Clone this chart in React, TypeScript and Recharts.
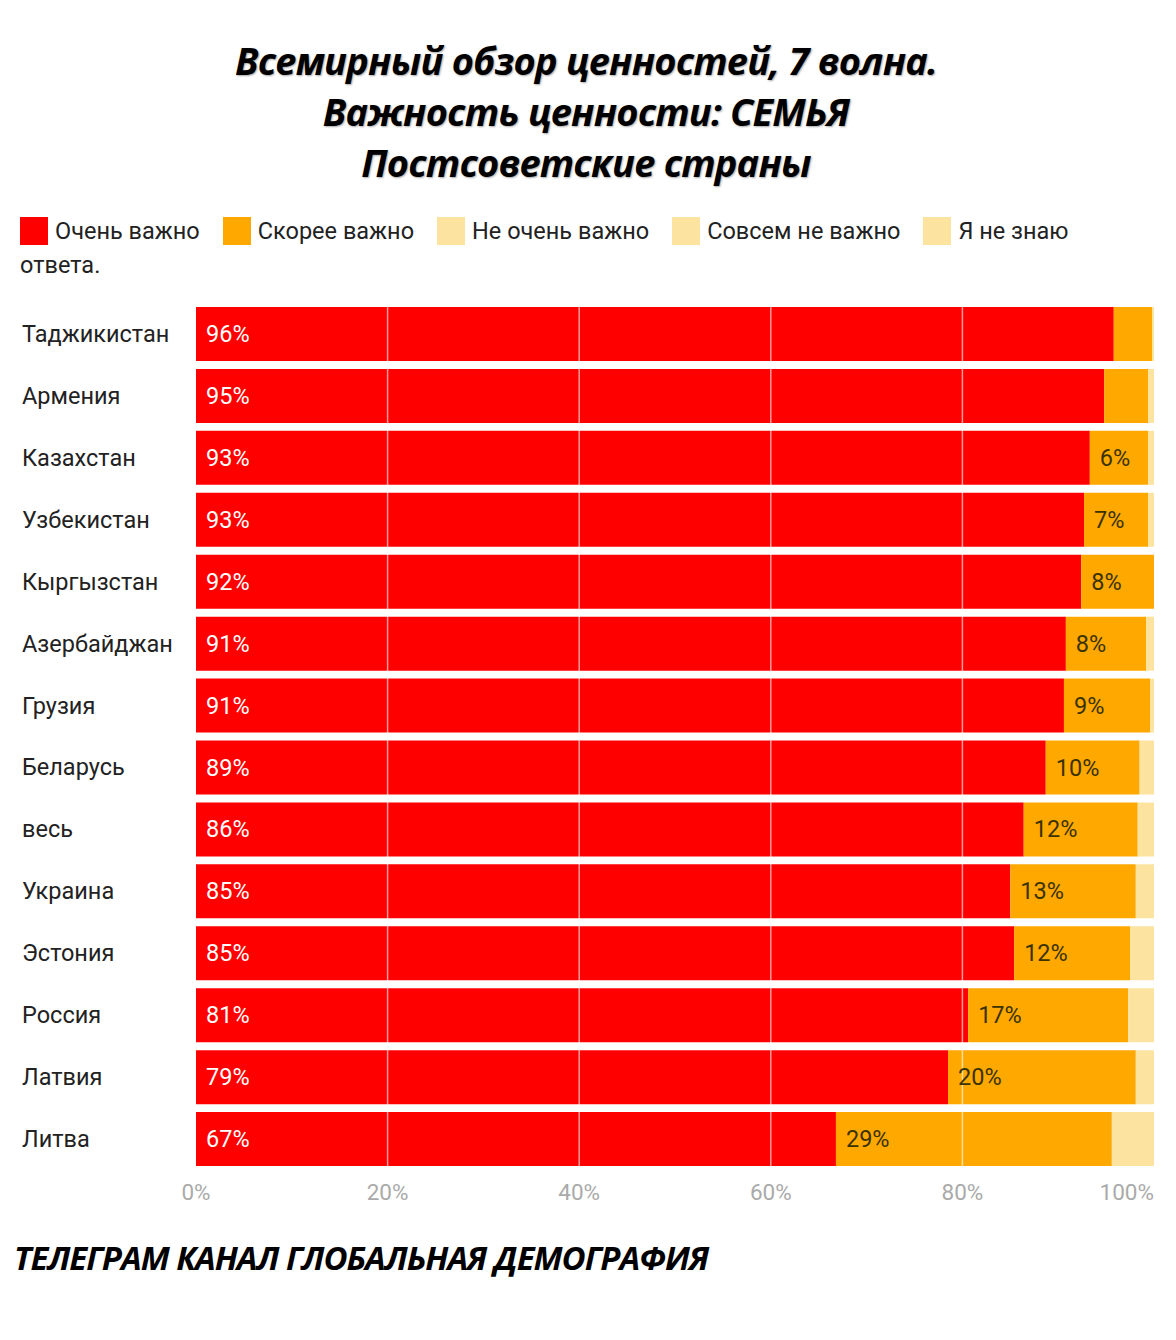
import React from "react";
import { BarChart, Bar, XAxis, YAxis, ReferenceLine, LabelList } from "recharts";

const countries = [
  "Таджикистан", "Армения", "Казахстан", "Узбекистан", "Кыргызстан", "Азербайджан", "Грузия",
  "Беларусь", "весь", "Украина", "Эстония", "Россия", "Латвия", "Литва",
];
const veryImportant = [95.8, 94.8, 93.3, 92.7, 92.4, 90.8, 90.6, 88.7, 86.4, 85.0, 85.4, 80.6, 78.5, 66.8];
const ratherImportant = [4.0, 4.6, 6.1, 6.7, 7.6, 8.4, 9.0, 9.8, 11.9, 13.1, 12.1, 16.7, 19.6, 28.8];
const notVeryImportant = [0.2, 0.6, 0.6, 0.6, 0.0, 0.8, 0.4, 1.5, 1.7, 1.9, 2.5, 2.7, 1.9, 4.4];
const notAtAll = [0, 0, 0, 0, 0, 0, 0, 0, 0, 0, 0, 0, 0, 0];
const dontKnow = [0, 0, 0, 0, 0, 0, 0, 0, 0, 0, 0, 0, 0, 0];
const xTicks = [0, 20, 40, 60, 80, 100];
const gridLines = [20, 40, 60, 80];

const seriesNames = ["Очень важно", "Скорее важно", "Не очень важно", "Совсем не важно", "Я не знаю ответа."];
const seriesColors = ["#ff0000", "#ffa800", "#fde3a0", "#fde3a0", "#fde3a0"];

const data = countries.map((c, i) => ({
  country: c,
  v1: veryImportant[i],
  v2: ratherImportant[i],
  v3: notVeryImportant[i],
  v4: notAtAll[i],
  v5: dontKnow[i],
}));

const FONT = "Roboto, 'Noto Sans', sans-serif";

const makeLabel = (color: string) => (props: any) => {
  const { x, y, height, value } = props;
  if (value == null || value < 5) return null;
  return (
    <text
      x={x + 10}
      y={y + height / 2}
      fill={color}
      fontSize={23.5}
      fontFamily={FONT}
      dominantBaseline="central"
      textAnchor="start"
    >
      {Math.round(value)}%
    </text>
  );
};

const CountryTick = (props: any) => {
  const { y, payload } = props;
  return (
    <text x={22} y={y} fill="#222" fontSize={23.5} fontFamily={FONT} dominantBaseline="central" textAnchor="start">
      {payload.value}
    </text>
  );
};

const PercentTick = (props: any) => {
  const { x, y, payload } = props;
  const last = payload.value === xTicks[xTicks.length - 1];
  return (
    <text
      x={x}
      y={y + 22}
      fill="#aaa"
      fontSize={22.5}
      fontFamily={FONT}
      dominantBaseline="central"
      textAnchor={last ? "end" : "middle"}
    >
      {payload.value}%
    </text>
  );
};

export default function App() {
  const titleStyle: React.CSSProperties = {
    fontFamily: "'Open Sans', sans-serif",
    fontWeight: 700,
    fontStyle: "italic",
    fontSize: 38,
    letterSpacing: -0.8,
    color: "#000",
    textAlign: "center",
    lineHeight: "51px",
    textShadow: "1px 1px 2px rgba(0,0,0,0.35)",
  };
  return (
    <div style={{ position: "absolute", left: 0, top: 0, width: 1176, height: 1340, background: "#fff" }}>
      <div style={{ position: "absolute", left: 0, top: 35, width: 1172, ...titleStyle }}>
        <div>Всемирный обзор ценностей, 7 волна.</div>
        <div>Важность ценности: СЕМЬЯ</div>
        <div>Постсоветские страны</div>
      </div>
      <div
        style={{
          position: "absolute",
          left: 20,
          top: 214,
          width: 1110,
          fontFamily: FONT,
          fontSize: 23.5,
          lineHeight: "34px",
          color: "#222",
        }}
      >
        {seriesNames.map((n, i) => (
          <React.Fragment key={n}>
            <span
              style={{
                display: "inline-block",
                width: 28,
                height: 28,
                background: seriesColors[i],
                verticalAlign: "-6px",
                marginRight: 7,
                marginLeft: i === 0 ? 0 : 23,
              }}
            />
            {n.split(" ").map((w, j) => (
              <React.Fragment key={j}>
                {j > 0 ? " " : null}
                <span>{w}</span>
              </React.Fragment>
            ))}
          </React.Fragment>
        ))}
      </div>
      <div style={{ position: "absolute", left: 0, top: 0 }}>
        <BarChart
          width={1176}
          height={1230}
          data={data}
          layout="vertical"
          margin={{ top: 303, right: 22, bottom: 30, left: 20 }}
          barSize={54}
        >
          <XAxis
            type="number"
            domain={[0, 100]}
            ticks={xTicks}
            interval={0}
            axisLine={false}
            tickLine={false}
            tickSize={0}
            tickMargin={0}
            tick={<PercentTick />}
            height={30}
          />
          <YAxis
            type="category"
            dataKey="country"
            width={176}
            axisLine={false}
            tickLine={false}
            tick={<CountryTick />}
            interval={0}
          />
          <Bar dataKey="v1" name={seriesNames[0]} stackId="a" fill={seriesColors[0]} isAnimationActive={false}>
            <LabelList dataKey="v1" content={makeLabel("#ffffff")} />
          </Bar>
          <Bar dataKey="v2" name={seriesNames[1]} stackId="a" fill={seriesColors[1]} isAnimationActive={false}>
            <LabelList dataKey="v2" content={makeLabel("#3a3300")} />
          </Bar>
          <Bar dataKey="v3" name={seriesNames[2]} stackId="a" fill={seriesColors[2]} isAnimationActive={false} />
          <Bar dataKey="v4" name={seriesNames[3]} stackId="a" fill={seriesColors[3]} isAnimationActive={false} />
          <Bar dataKey="v5" name={seriesNames[4]} stackId="a" fill={seriesColors[4]} isAnimationActive={false} />
          {gridLines.map((g) => (
            <ReferenceLine key={g} x={g} stroke="#ffffff" strokeOpacity={0.6} strokeWidth={1.5} />
          ))}
        </BarChart>
      </div>
      <div
        style={{
          position: "absolute",
          left: 14,
          top: 1235,
          fontFamily: "'Open Sans', sans-serif",
          fontWeight: 700,
          fontStyle: "italic",
          fontSize: 33,
          letterSpacing: -1,
          color: "#000",
          whiteSpace: "nowrap",
        }}
      >
        ТЕЛЕГРАМ КАНАЛ ГЛОБАЛЬНАЯ ДЕМОГРАФИЯ
      </div>
    </div>
  );
}
